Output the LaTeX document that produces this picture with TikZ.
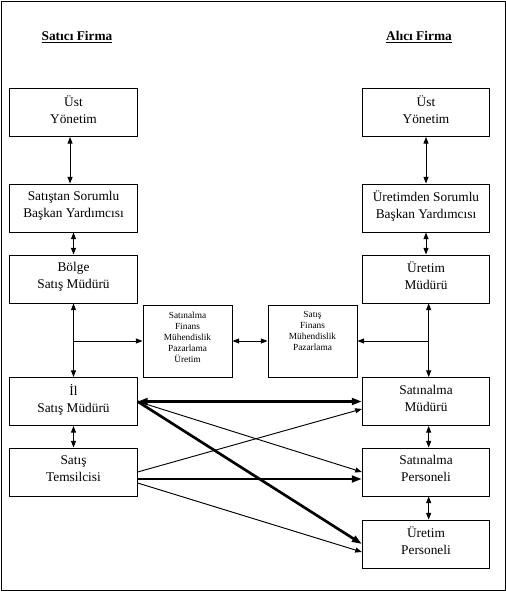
\documentclass[tikz,border=0pt]{standalone}
\usepackage{fontspec}
\setmainfont{Liberation Serif}
\usetikzlibrary{positioning,calc,arrows.meta}

\begin{document}
\begin{tikzpicture}[
    x=0.75pt, y=-0.75pt,
    firmbox/.style={rectangle, draw, line width=0.7pt, minimum width=95.5pt, minimum height=36pt, align=center, inner sep=2pt, text depth=5pt, font=\fontsize{10}{12.75}\selectfont},
    deptbox/.style={rectangle, draw, line width=0.7pt, minimum width=66.75pt, minimum height=54pt, align=center, inner sep=2pt, text depth=6pt, font=\fontsize{7}{8.25}\selectfont},
    title/.style={font=\fontsize{10}{12}\selectfont\bfseries},
    arrow/.style={-{Triangle[length=5pt,width=3.75pt]}, line width=0.7pt},
    dblarrow/.style={{Triangle[length=5pt,width=3.75pt]}-{Triangle[length=5pt,width=3.75pt]}, line width=0.7pt},
    boldarrow/.style={-{Triangle[length=7.5pt,width=5pt]}, line width=2pt},
    bolddbl/.style={{Triangle[length=7.5pt,width=5pt]}-{Triangle[length=7.5pt,width=5pt]}, line width=2pt}
]
    \useasboundingbox (0,0) rectangle (506,592);
    \draw[line width=0.7pt] (1,1) rectangle (505,590);

    % Satici firma
    \node[title] (satici) at (77, 37) {\underline{Satıcı Firma}};
    \node[firmbox] (sust) at (73.5, 112.5) {Üst\\Yönetim};
    \node[firmbox] (ssorumlu) at (73.5, 208) {Satıştan Sorumlu\\Başkan Yardımcısı};
    \node[firmbox] (bolge) at (73.5, 279) {Bölge\\Satış Müdürü};
    \node[firmbox] (il) at (73.5, 401.5) {İl\\Satış Müdürü};
    \node[firmbox] (temsilci) at (73.5, 472) {Satış\\Temsilcisi};

    % Alici firma
    \node[title] (alici) at (419, 37) {\underline{Alıcı Firma}};
    \node[firmbox] (aust) at (426, 112.5) {Üst\\Yönetim};
    \node[firmbox] (asorumlu) at (426, 208) {Üretimden Sorumlu\\Başkan Yardımcısı};
    \node[firmbox] (uretim) at (426, 279) {Üretim\\Müdürü};
    \node[firmbox] (smudur) at (426, 401.5) {Satınalma\\Müdürü};
    \node[firmbox] (spersonel) at (426, 472) {Satınalma\\Personeli};
    \node[firmbox] (upersonel) at (426, 544) {Üretim\\Personeli};

    % Fonksiyonlar
    \node[deptbox] (sfonk) at (187.5, 341) {Satınalma\\Finans\\Mühendislik\\Pazarlama\\Üretim};
    \node[deptbox, text depth=15pt] (afonk) at (312.5, 341) {Satış\\Finans\\Mühendislik\\Pazarlama};

    % Satici dikey baglantilar
    \draw[dblarrow] ([xshift=-2.6pt]sust.south) -- ([xshift=-2.6pt]ssorumlu.north);
    \draw[dblarrow] (ssorumlu.south) -- (bolge.north);
    \draw[dblarrow] (bolge.south) -- (il.north);
    \draw[arrow] (bolge.south |- sfonk.west) -- (sfonk.west);
    \draw[dblarrow] (il.south) -- (temsilci.north);

    % Alici dikey baglantilar
    \draw[dblarrow] (aust.south) -- (asorumlu.north);
    \draw[dblarrow] (asorumlu.south) -- (uretim.north);
    \draw[dblarrow] ([xshift=2pt]uretim.south) -- ([xshift=2pt]smudur.north);
    \draw[arrow] ([xshift=2pt]uretim.south |- afonk.east) -- (afonk.east);
    \draw[dblarrow] ([xshift=2pt]smudur.south) -- ([xshift=2pt]spersonel.north);
    \draw[dblarrow] ([xshift=2pt]spersonel.south) -- ([xshift=2pt]upersonel.north);

    % Orta
    \draw[dblarrow] (sfonk.east) -- (afonk.west);

    % Capraz baglantilar
    \draw[bolddbl] (il.east) -- (smudur.west);
    \draw[arrow] (il.east) -- (spersonel.west);
    \draw[boldarrow] (il.east) -- (upersonel.west);
    \draw[arrow] (temsilci.east) -- ([yshift=-5.6pt]smudur.west);
    \draw[boldarrow] ([yshift=-5.25pt]temsilci.east) -- ([yshift=-5.25pt]spersonel.west);
    \draw[arrow] ([yshift=-8.25pt]temsilci.east) -- ([yshift=-6pt]upersonel.west);
\end{tikzpicture}
\end{document}
